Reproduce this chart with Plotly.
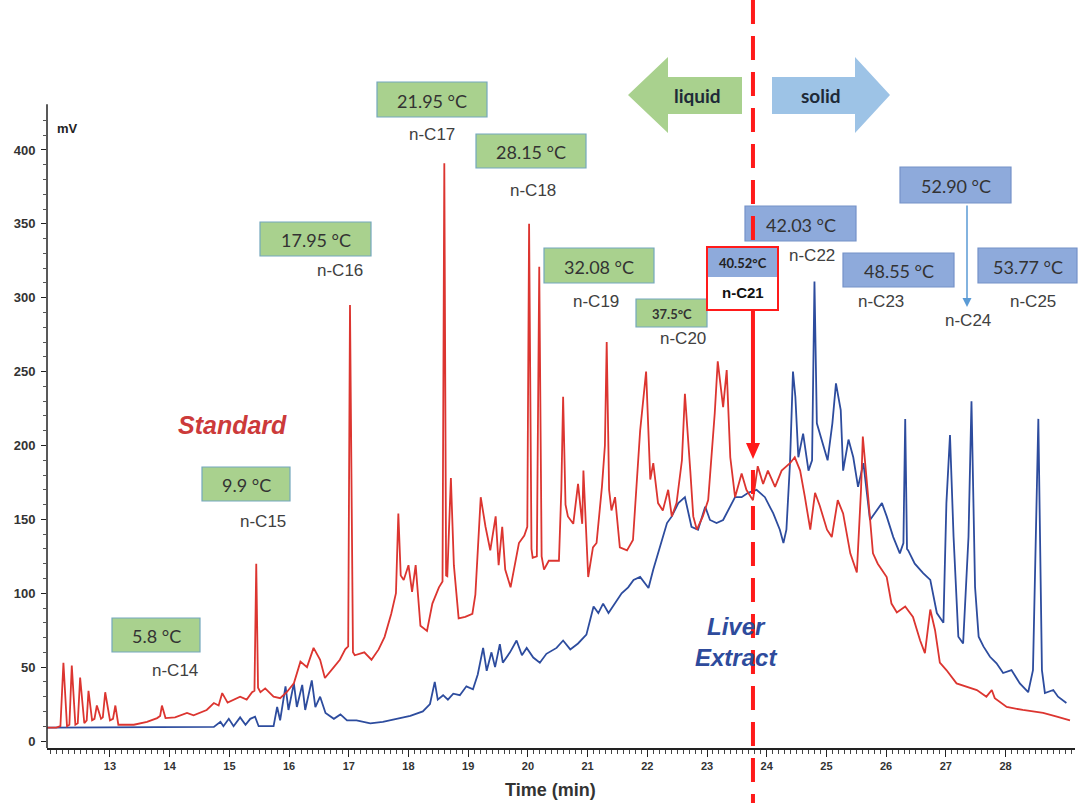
import plotly.graph_objects as go

# ---------------- data ----------------
std_time = [11.95, 12.10, 12.17, 12.22, 12.28, 12.32, 12.36, 12.42, 12.46, 12.50, 12.57, 12.61, 12.64, 12.70,
            12.74, 12.78, 12.85, 12.88, 12.92, 13.00, 13.05, 13.09, 13.14, 13.40, 13.62, 13.79, 13.84, 13.87,
            13.93, 14.09, 14.29, 14.40, 14.62, 14.74, 14.82, 14.88, 14.97, 15.07, 15.18, 15.29, 15.38, 15.42,
            15.45, 15.48, 15.52, 15.60, 15.74, 15.85, 15.96, 16.08, 16.19, 16.30, 16.41, 16.52, 16.60, 16.75,
            16.85, 16.94, 16.99, 17.02, 17.05, 17.07, 17.10, 17.26, 17.38, 17.50, 17.60, 17.71, 17.79, 17.83,
            17.87, 17.92, 18.00, 18.06, 18.12, 18.20, 18.31, 18.40, 18.51, 18.57, 18.60, 18.63, 18.65, 18.71,
            18.76, 18.84, 18.95, 19.07, 19.12, 19.21, 19.29, 19.37, 19.46, 19.51, 19.57, 19.62, 19.71, 19.85,
            19.94, 19.99, 20.02, 20.06, 20.08, 20.15, 20.19, 20.23, 20.27, 20.35, 20.52, 20.56, 20.59, 20.63,
            20.67, 20.76, 20.84, 20.91, 20.93, 21.01, 21.09, 21.15, 21.24, 21.29, 21.32, 21.36, 21.40, 21.46,
            21.54, 21.66, 21.76, 21.88, 21.98, 22.05, 22.10, 22.18, 22.26, 22.35, 22.41, 22.49, 22.58, 22.63,
            22.72, 22.77, 22.83, 22.93, 23.02, 23.13, 23.18, 23.27, 23.33, 23.39, 23.47, 23.58, 23.66, 23.77,
            23.85, 23.94, 24.02, 24.14, 24.25, 24.39, 24.47, 24.56, 24.64, 24.73, 24.81, 24.89, 25.01, 25.09,
            25.19, 25.28, 25.40, 25.51, 25.58, 25.61, 25.70, 25.78, 25.86, 26.01, 26.09, 26.18, 26.32, 26.45,
            26.57, 26.65, 26.74, 26.82, 26.90, 27.01, 27.18, 27.35, 27.52, 27.68, 27.77, 27.82, 28.02, 28.29,
            28.63, 28.86, 29.08]
std_mv = [9, 9, 10, 53, 10, 11, 51, 11, 12, 43, 12, 14, 34, 14,
          15, 24, 15, 16, 33, 14, 15, 24, 11, 11, 13, 15.5, 17, 24,
          15.5, 16, 19, 17.4, 21, 25.7, 24, 32.4, 26, 27.7, 30, 28, 33, 34,
          120, 36, 33, 35.6, 30, 29, 33, 39, 53.7, 50, 63, 55, 42.6, 50,
          55, 62, 64, 295, 140, 60, 58, 60, 55, 62, 70.5, 86, 100, 154,
          112, 109, 119, 101, 119, 78, 74.5, 93, 104, 108, 391, 112, 111.5, 178,
          119, 83, 84, 86, 99, 165, 145, 129, 152, 119, 145, 116, 104, 134,
          139, 145, 350, 130, 124, 125, 321, 125, 116, 122, 122, 170, 233, 160,
          152, 147, 174, 147, 183, 111, 131, 134, 172, 200, 270, 170, 156, 165,
          131, 129, 136, 210, 250, 177, 188, 161, 156, 170, 152, 161, 190, 235,
          183, 152, 143, 152, 163, 222, 257, 226, 251, 192, 165, 181, 170, 163,
          186, 174, 183, 172, 183, 188, 192, 183, 165, 143, 168, 159, 143, 138,
          163, 154, 127, 114, 170, 206, 165, 127, 120, 111, 93, 87, 91, 84,
          68, 59.5, 89, 75, 53, 48, 39, 37, 34.5, 30, 34.5, 29, 23, 21,
          19, 16.5, 14]

liver_time = [11.95, 13.15, 13.40, 13.90, 14.74, 14.85, 14.90, 14.99, 15.07, 15.18, 15.27, 15.35, 15.43, 15.49,
              15.74, 15.80, 15.85, 15.94, 15.99, 16.08, 16.13, 16.22, 16.27, 16.38, 16.44, 16.52, 16.61, 16.75,
              16.86, 16.97, 17.13, 17.36, 17.57, 17.80, 18.03, 18.24, 18.36, 18.44, 18.49, 18.58, 18.66, 18.75,
              18.86, 18.97, 19.08, 19.16, 19.25, 19.31, 19.39, 19.45, 19.53, 19.58, 19.70, 19.81, 19.90, 19.98,
              20.09, 20.20, 20.31, 20.48, 20.59, 20.71, 20.84, 20.98, 21.10, 21.18, 21.26, 21.35, 21.46, 21.57,
              21.68, 21.77, 21.88, 21.96, 22.02, 22.10, 22.21, 22.33, 22.41, 22.52, 22.63, 22.74, 22.85, 22.97,
              23.05, 23.16, 23.27, 23.39, 23.47, 23.58, 23.69, 23.83, 23.97, 24.11, 24.22, 24.28, 24.33, 24.39,
              24.44, 24.48, 24.53, 24.61, 24.70, 24.76, 24.80, 24.84, 24.94, 25.02, 25.10, 25.16, 25.24, 25.28,
              25.37, 25.45, 25.53, 25.62, 25.73, 25.84, 25.93, 26.01, 26.12, 26.23, 26.29, 26.32, 26.35, 26.37,
              26.48, 26.62, 26.74, 26.85, 26.96, 27.01, 27.07, 27.13, 27.21, 27.29, 27.38, 27.43, 27.49, 27.55,
              27.63, 27.74, 27.85, 27.96, 28.10, 28.24, 28.38, 28.46, 28.55, 28.61, 28.66, 28.80, 28.88, 29.02]
liver_mv = [9, 9, 9, 9, 9.5, 13, 10, 15, 10, 16, 11, 15, 16.5, 10,
            10, 23, 14, 37, 21, 39, 23, 38, 21, 41, 23, 30, 19, 15,
            18, 14, 14, 12, 13, 15, 17, 20, 25, 40, 28, 31, 28, 32,
            31, 37, 35, 45, 63, 47.5, 60, 50, 65.6, 53, 60, 68, 58, 63,
            56.5, 53, 59, 63, 68, 62, 66, 72, 91, 86.6, 93, 86.6, 93, 100,
            104, 109, 111, 107, 103.5, 116, 131.5, 147.5, 152, 161, 165, 145, 143, 158.6,
            149.6, 147.5, 149.6, 158.6, 165, 165, 168, 170, 165, 154, 143, 134, 143, 188,
            250, 233, 192, 208, 183, 190, 311, 215, 201.7, 190, 215, 242, 224, 183,
            204, 192, 172, 188, 149.6, 156, 161, 152, 138, 127, 134, 218, 130, 129,
            120, 113.6, 109, 86.6, 80, 161, 207, 138, 70.6, 66, 138, 230, 104, 70.6,
            64, 57, 52.6, 46, 48, 39, 33, 48, 218, 48, 32.5, 34.5, 30, 25.7]

x_ticks = list(range(13, 29))
y_ticks = [0, 50, 100, 150, 200, 250, 300, 350, 400]
y_minor = [v for v in range(10, 430, 10) if v % 50 != 0]

alkanes = ["n-C14", "n-C15", "n-C16", "n-C17", "n-C18", "n-C19", "n-C20",
           "n-C21", "n-C22", "n-C23", "n-C24", "n-C25"]
melt_points = ["5.8 °C", "9.9 °C", "17.95 °C", "21.95 °C", "28.15 °C", "32.08 °C", "37.5°C",
               "40.52°C", "42.03 °C", "48.55 °C", "52.90 °C", "53.77 °C"]
threshold_time = 23.77  # liquid / solid boundary

# ---------------- geometry helpers (layout only) ----------------
W, H = 1078, 803
ML, MR, MT, MB = 47, 3, 0, 55
PW, PH = W - ML - MR, H - MT - MB
X_RANGE = [11.945, 29.164]
Y_RANGE = [-4.74, 501.5]


def px(x):
    return (x - ML) / PW


def py(y):
    return (PH - (y - MT)) / PH


def label(x, y, text, size, color, family="Liberation Sans"):
    return dict(xref="paper", yref="paper", x=px(x), y=py(y), text=text, showarrow=False,
                xanchor="center", yanchor="middle", font=dict(family=family, size=size, color=color))


GREEN = "#a9d18e"
GREEN_EDGE = "#74a7bd"
BLUE = "#8eaadb"
BLUE_EDGE = "#7592c8"
RED = "#ff1a1a"

fig = go.Figure()
fig.add_trace(go.Scatter(x=liver_time, y=liver_mv, mode="lines", name="Liver Extract",
                         line=dict(color="#2d4c9e", width=1.8), showlegend=False))
fig.add_trace(go.Scatter(x=std_time, y=std_mv, mode="lines", name="Standard",
                         line=dict(color="#dc3530", width=1.8), showlegend=False))

shapes = []
annotations = []

# label boxes: (index, box x0,y0,x1,y1, fill, edge, font size, bold, label x,y)
box_layout = [
    (0, (112, 618, 200, 652), GREEN, GREEN_EDGE, 18, False, (175, 670)),
    (1, (202, 467, 290, 501), GREEN, GREEN_EDGE, 18, False, (263, 521)),
    (2, (260, 222, 371, 256), GREEN, GREEN_EDGE, 18, False, (340, 270)),
    (3, (377, 82, 487, 117), GREEN, GREEN_EDGE, 18, False, (432, 134)),
    (4, (476, 134, 586, 168), GREEN, GREEN_EDGE, 18, False, (533, 190)),
    (5, (544, 248, 654, 283), GREEN, GREEN_EDGE, 18, False, (596, 301)),
    (6, (636, 299, 707, 327), GREEN, GREEN_EDGE, 13, True, (683, 338)),
    (8, (745, 206, 856, 241), BLUE, BLUE_EDGE, 18, False, (812, 255)),
    (9, (843, 253, 954, 287), BLUE, BLUE_EDGE, 18, False, (881, 301)),
    (10, (900, 167, 1011, 203), BLUE, BLUE_EDGE, 18, False, (968, 320)),
    (11, (978, 248, 1077, 283), BLUE, BLUE_EDGE, 18, False, (1033, 301)),
]
for idx, (x0, y0, x1, y1), fill, edge, fs, bold, (lx, ly) in box_layout:
    shapes.append(dict(type="rect", xref="paper", yref="paper", x0=px(x0), x1=px(x1), y0=py(y1), y1=py(y0),
                       fillcolor=fill, line=dict(color=edge, width=1.2), layer="above"))
    txt = f"<b>{melt_points[idx]}</b>" if bold else melt_points[idx]
    annotations.append(label((x0 + x1) / 2, (y0 + y1) / 2 + 1, txt, fs, "#333333", "Lato"))
    annotations.append(label(lx, ly, alkanes[idx], 17, "#404040"))

# n-C21 highlighted box
shapes.append(dict(type="rect", xref="paper", yref="paper", x0=px(707), x1=px(778), y0=py(310), y1=py(247),
                   fillcolor="white", line=dict(color=RED, width=0), layer="above"))
shapes.append(dict(type="rect", xref="paper", yref="paper", x0=px(707), x1=px(778), y0=py(277), y1=py(247),
                   fillcolor=BLUE, line=dict(width=0), layer="above"))
shapes.append(dict(type="rect", xref="paper", yref="paper", x0=px(707), x1=px(778), y0=py(310), y1=py(247),
                   fillcolor="rgba(0,0,0,0)", line=dict(color=RED, width=2), layer="above"))
annotations.append(label(742.5, 263, f"<b>{melt_points[7]}</b>", 13, "#222222", "Lato"))
annotations.append(label(742.5, 292, f"<b>{alkanes[7]}</b>", 15, "#111111"))

# liquid / solid arrows
shapes.append(dict(type="path", xref="paper", yref="paper", fillcolor=GREEN, line=dict(width=0), layer="above",
                   path="M {},{} L {},{} L {},{} L {},{} L {},{} L {},{} L {},{} Z".format(
                       px(628), py(95), px(668), py(57), px(668), py(77), px(742), py(77),
                       px(742), py(114), px(668), py(114), px(668), py(133))))
shapes.append(dict(type="path", xref="paper", yref="paper", fillcolor="#9dc3e6", line=dict(width=0), layer="above",
                   path="M {},{} L {},{} L {},{} L {},{} L {},{} L {},{} L {},{} Z".format(
                       px(772), py(77), px(855), py(77), px(855), py(57), px(890), py(95),
                       px(855), py(133), px(855), py(114), px(772), py(114))))
annotations.append(label(697, 96, "<b>liquid</b>", 19, "#1e2a38", "Lato"))
annotations.append(label(821, 96, "<b>solid</b>", 19, "#1e2a38", "Lato"))

# threshold line (dashed above box, solid arrow, dashed below)
dash = dict(color=RED, width=4, dash="24px,12px")
shapes.append(dict(type="line", xref="x", yref="paper", x0=threshold_time, x1=threshold_time,
                   y0=py(0), y1=py(246), line=dash, layer="above"))
shapes.append(dict(type="line", xref="x", yref="paper", x0=threshold_time, x1=threshold_time,
                   y0=py(311), y1=py(446), line=dict(color=RED, width=4), layer="above"))
hw = 7 / (PW / (X_RANGE[1] - X_RANGE[0]))
shapes.append(dict(type="path", xref="x", yref="paper", fillcolor=RED, line=dict(width=0), layer="above",
                   path=f"M {threshold_time - hw},{py(443)} L {threshold_time + hw},{py(443)} "
                        f"L {threshold_time},{py(459)} Z"))
shapes.append(dict(type="line", xref="x", yref="paper", x0=threshold_time, x1=threshold_time,
                   y0=py(470), y1=py(803), line=dash, layer="above"))

# 52.90 arrow
annotations.append(dict(xref="paper", yref="paper", x=px(967), y=py(307), ax=0, ay=-103, text="",
                        showarrow=True, arrowhead=2, arrowsize=1.2, arrowwidth=1.5, arrowcolor="#5b9bd5"))

# y axis line (stops at top of scale)
shapes.append(dict(type="line", xref="paper", yref="y", x0=0, x1=0, y0=Y_RANGE[0], y1=431,
                   line=dict(color="#222222", width=1.5)))

# series labels
annotations.append(label(232, 425, "<b><i>Standard</i></b>", 25, "#cc3a3a"))
annotations.append(label(736, 642, "<b><i>Liver<br>Extract</i></b>", 24, "#2e4b9c"))
# axis labels
annotations.append(label(67, 128, "<b>mV</b>", 13, "#222222"))
annotations.append(label(550, 790, "<b>Time (min)</b>", 18, "#333333"))

fig.update_layout(
    width=W, height=H, margin=dict(l=ML, r=MR, t=MT, b=MB),
    paper_bgcolor="white", plot_bgcolor="white",
    shapes=shapes, annotations=annotations, showlegend=False,
    xaxis=dict(range=X_RANGE, showgrid=False, zeroline=False, showline=True, linecolor="#222222", linewidth=1.5,
               tickmode="array", tickvals=x_ticks, ticktext=[f"<b>{t}</b>" for t in x_ticks],
               ticks="outside", ticklen=7, tickwidth=1.2, tickcolor="#222222",
               tickfont=dict(family="Liberation Sans", size=11, color="#333333"),
               minor=dict(dtick=0.1, tick0=12, ticks="outside", ticklen=4, tickwidth=1, tickcolor="#444444")),
    yaxis=dict(range=Y_RANGE, showgrid=False, zeroline=False, showline=False,
               tickmode="array", tickvals=y_ticks, ticktext=[f"<b>{t}</b>" for t in y_ticks],
               ticks="outside", ticklen=5, tickwidth=1.2, tickcolor="#222222", ticklabelstandoff=3,
               tickfont=dict(family="Liberation Sans", size=13, color="#333333"),
               minor=dict(tickmode="array", tickvals=y_minor, ticks="outside", ticklen=3, tickwidth=1,
                          tickcolor="#555555")),
)

fig.write_html("out.html", config={"displayModeBar": False},
               post_script="document.body.style.margin='0';document.body.style.padding='0';")
